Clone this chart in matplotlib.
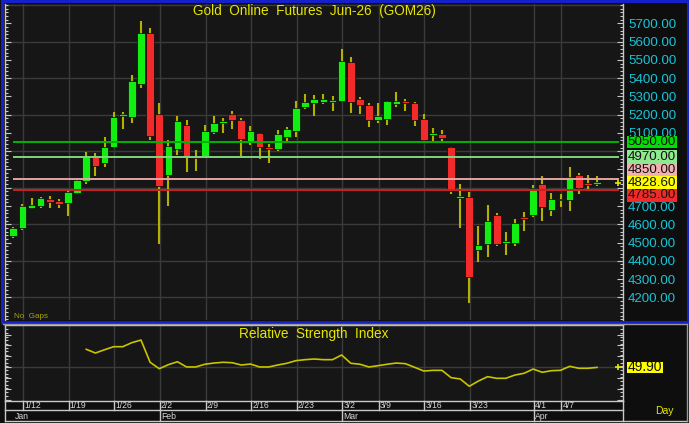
import numpy as np
import matplotlib
matplotlib.use("Agg")
import matplotlib.pyplot as plt
from matplotlib.patches import Rectangle
from matplotlib.lines import Line2D
from matplotlib.ticker import FixedLocator, MultipleLocator
import matplotlib.transforms as mtransforms

plt.rcParams['font.family'] = ['Liberation Sans', 'DejaVu Sans']

# ---------------- data ----------------
dates = ["1/9",
         "1/12", "1/13", "1/14", "1/15", "1/16",
         "1/19", "1/20", "1/21", "1/22", "1/23",
         "1/26", "1/27", "1/28", "1/29", "1/30",
         "2/2", "2/3", "2/4", "2/5", "2/6",
         "2/9", "2/10", "2/11", "2/12", "2/13",
         "2/16", "2/17", "2/18", "2/19", "2/20",
         "2/23", "2/24", "2/25", "2/26", "2/27",
         "3/2", "3/3", "3/4", "3/5",
         "3/9", "3/10", "3/11", "3/12", "3/13",
         "3/16", "3/17", "3/18", "3/19", "3/20",
         "3/23", "3/24", "3/25", "3/26", "3/27",
         "3/30", "3/31", "4/1", "4/2", "4/3",
         "4/7", "4/8", "4/9", "4/10", "4/13"]

opens = [4538, 4578, 4691, 4700, 4740, 4728, 4715, 4773, 4837, 4970,
         4937, 5025, 5193, 5189, 5368, 5649, 5204, 4870, 5012, 5143,
         4972, 4972, 5107, 5156, 5204, 5171, 5054, 5098, 5023, 5010,
         5080, 5112, 5240, 5266, 5269, 5271, 5275, 5488, 5284, 5253,
         5171, 5176, 5258, 5275, 5262, 5178, 5091, 5094, 5023, 4746,
         4749, 4458, 4492, 4649, 4499, 4498, 4638, 4651, 4821, 4676,
         4733, 4731, 4870, 4824, 4822]
highs = [4587, 4709, 4742, 4751, 4755, 4737, 4788, 4848, 4996, 4990,
         5076, 5215, 5215, 5417, 5713, 5672, 5262, 5060, 5195, 5169,
         5007, 5143, 5191, 5180, 5220, 5184, 5138, 5102, 5039, 5116,
         5134, 5275, 5313, 5308, 5313, 5300, 5559, 5514, 5298, 5262,
         5262, 5277, 5322, 5284, 5268, 5204, 5125, 5116, 5023, 4821,
         4775, 4589, 4704, 4660, 4558, 4629, 4667, 4815, 4866, 4769,
         4764, 4915, 4881, 4868, 4864]
lows = [4523, 4567, 4682, 4687, 4691, 4691, 4646, 4766, 4821, 4866,
        4915, 5020, 5120, 5156, 5344, 5060, 4494, 4700, 4979, 4886,
        4894, 4972, 5094, 5100, 5120, 4974, 5036, 4956, 4937, 4999,
        5052, 5080, 5231, 5191, 5257, 5220, 5272, 5211, 5202, 5134,
        5153, 5145, 5240, 5222, 5140, 5056, 5056, 5056, 4766, 4582,
        4168, 4392, 4423, 4483, 4432, 4481, 4563, 4642, 4620, 4647,
        4693, 4675, 4768, 4795, 4810]
closes = [4582, 4700, 4706, 4744, 4722, 4711, 4775, 4844, 4970, 4921,
          5025, 5189, 5204, 5384, 5649, 5085, 4811, 5029, 5165, 4976,
          4965, 5111, 5154, 5165, 5171, 5069, 5109, 5021, 5012, 5094,
          5123, 5238, 5268, 5288, 5284, 5277, 5494, 5271, 5251, 5171,
          5193, 5273, 5277, 5266, 5171, 5061, 5096, 5072, 4784, 4751,
          4313, 4489, 4620, 4492, 4507, 4605, 4631, 4797, 4693, 4738,
          4740, 4857, 4800, 4817, 4828.6]

rsi = [None] * 8 + [
    66.5, 63.1, 66.1, 68.9, 68.9, 72.6, 75.0, 54.6, 48.7, 52.4,
    55.1, 50.3, 50.3, 52.8, 53.9, 54.6, 54.2, 52.1, 53.0, 50.3,
    50.3, 52.1, 53.7, 56.1, 57.0, 57.6, 57.0, 57.0, 61.3, 53.7,
    52.8, 50.3, 51.5, 52.8, 53.9, 53.3, 50.0, 46.6, 47.2, 47.2,
    40.5, 39.3, 32.6, 37.4, 41.4, 39.9, 39.9, 42.9, 44.5, 48.4,
    45.4, 46.9, 47.2, 50.9, 49.1, 49.1, 49.9]

week_labels = ["1/12", "1/19", "1/26", "2/2", "2/9", "2/16", "2/23",
               "3/2", "3/9", "3/16", "3/23", "4/1", "4/7"]
month_labels = ["Jan", "Feb", "Mar", "Apr"]
month_first = ["1/9", "2/2", "3/2", "4/1"]

levels = [5050.0, 4970.0, 4850.0, 4785.0]
level_colors = ["#00B400", "#7FD67F", "#E3A4A4", "#C82222"]
level_box_colors = ["#00DD00", "#8FEA8F", "#F2B0B0", "#EE2A2A"]
last_price = 4828.60
last_rsi = 49.90

title = "Gold  Online  Futures  Jun-26  (GOM26)"
rsi_title = "Relative  Strength  Index"

# ---------------- style ----------------
W, H = 689, 423
BG = '#161616'
FIGBG = '#0e0e0e'
GRID = '#3a3a3a'
SPINE = '#c8c8c8'
GREEN = '#12EE12'
RED = '#F22A2A'
WICK = '#B4B000'
YEL = '#E6E600'
CYAN = '#16C4D6'

fig = plt.figure(figsize=(W / 100, H / 100), dpi=100, facecolor=FIGBG)


def box(l, t, r, b):
    return [l / W, 1 - b / H, (r - l) / W, (b - t) / H]


n = len(closes)
x = np.arange(n)
week_idx = [dates.index(d) for d in week_labels]
month_idx = [dates.index(d) for d in month_first]
XL = (-0.91, 66.85)

# ---------------- price panel ----------------
ax = fig.add_axes(box(5, 4, 623, 320))
ax.set_facecolor(BG)
ax.set_xlim(*XL)
ax.set_ylim(4076, 5806)

for v in np.arange(4200, 5801, 200):
    ax.axhline(v, color=GRID, lw=1.0, zorder=1)
for i in week_idx:
    ax.axvline(i + 0.08, color=GRID, lw=1.0, zorder=1)

o = np.array(opens, float)
c = np.array(closes, float)
hi = np.array(highs, float)
lo = np.array(lows, float)
up = c >= o
ax.vlines(x, lo, hi, color=WICK, lw=1.5, zorder=3)
hts = np.maximum(np.abs(c - o), 8)
bots = (o + c) / 2 - hts / 2
ax.bar(x, hts, bottom=bots, width=0.84,
       color=np.where(up, GREEN, RED), edgecolor='#080808', linewidth=0.5, zorder=4)

ax.hlines(levels, -0.05, 66.4, colors=level_colors, lw=1.4, zorder=5)
ax.plot([n + 1.3], [last_price], marker='+', color=YEL, ms=5, mew=1.2, zorder=6)

ax.text(0.5, 0.978, title, transform=ax.transAxes, ha='center', va='center',
        color=YEL, fontsize=9.8, zorder=7)
ax.text(9 / 618, 4 / 316, "No  Gaps", transform=ax.transAxes, ha='left', va='center',
        color='#A8A800', fontsize=5.8, zorder=7)

# level boxes on the right axis (stacked around the last price)
ylo, yhi = ax.get_ylim()
items = sorted([(v, bc) for v, bc in zip(levels, level_box_colors)] +
               [(last_price, '#FFFF00')], key=lambda t: -t[0])
fr = [(v - ylo) / (yhi - ylo) for v, _ in items]
a = [k for k, (v, _) in enumerate(items) if v == last_price][0]
gap = 12.8 / 316
for k in range(a - 1, -1, -1):
    fr[k] = max(fr[k], fr[k + 1] + gap)
for k in range(a + 1, len(items)):
    fr[k] = min(fr[k], fr[k - 1] - gap)
bx0 = (626.7 - 5) / 618
bw = 50 / 618
hh = 6.3 / 316
for (v, bc), f in zip(items, fr):
    ax.add_patch(Rectangle((bx0, f - hh), bw, 2 * hh, transform=ax.transAxes,
                           facecolor=bc, edgecolor='none', clip_on=False, zorder=8))
    ax.text(bx0 + bw / 2, f, f"{v:.2f}", transform=ax.transAxes, ha='center',
            va='center', fontsize=9.6, color='#101010', clip_on=False, zorder=9)


def price_label(v, p):
    f = (v - ylo) / (yhi - ylo)
    if any(abs(f - fb) < hh for fb in fr):
        return ""          # hidden behind a level box, as in the reference
    return f"{v:.2f}"


ax.yaxis.set_major_locator(FixedLocator(np.arange(4200, 5701, 100)))
ax.yaxis.set_minor_locator(MultipleLocator(20))
ax.yaxis.set_major_formatter(price_label)
ax.tick_params(axis='y', which='both', direction='in', left=True, right=True,
               labelleft=False, labelright=True, colors=SPINE,
               labelcolor=CYAN, labelsize=9.6, pad=3.6)
ax.tick_params(axis='y', which='major', length=4, width=0.8)
ax.tick_params(axis='y', which='minor', length=2, width=0.8)
ax.tick_params(axis='x', which='both', bottom=False, top=False, labelbottom=False)
for s in ['top', 'bottom']:
    ax.spines[s].set_visible(False)
for s in ['left', 'right']:
    ax.spines[s].set_color(SPINE)
    ax.spines[s].set_linewidth(1.0)

# ---------------- RSI panel ----------------
ax2 = fig.add_axes(box(5, 325, 623, 400.7))
ax2.set_facecolor(BG)
ax2.set_xlim(*XL)
ax2.set_ylim(19.36, 88.8)
ax2.axhline(50, color=GRID, lw=1.0, zorder=1)
for i in week_idx:
    ax2.axvline(i + 0.08, color=GRID, lw=1.0, zorder=1)
r = np.array([np.nan if v is None else v for v in rsi], float)
ax2.plot(x, r, color='#C8C400', lw=1.2, zorder=3)
ax2.plot([n + 1.3], [last_rsi], marker='+', color=YEL, ms=5, mew=1.2, zorder=4)
ax2.yaxis.set_major_locator(MultipleLocator(10))
ax2.yaxis.set_minor_locator(MultipleLocator(3.4))
ax2.tick_params(axis='y', which='both', direction='in', left=True, right=True,
                labelleft=False, labelright=False, colors=SPINE)
ax2.tick_params(axis='y', which='major', length=4, width=0.8)
ax2.tick_params(axis='y', which='minor', length=2, width=0.8)
ax2.tick_params(axis='x', which='both', bottom=False, top=False, labelbottom=False)
for s in ax2.spines.values():
    s.set_color(SPINE)
    s.set_linewidth(1.0)
ax2.text(0.5, 0.875, rsi_title, transform=ax2.transAxes, ha='center', va='center',
         color=YEL, fontsize=9.8)

bt = mtransforms.blended_transform_factory(ax2.transAxes, ax2.transData)
ax2.add_patch(Rectangle((bx0, last_rsi - 5.3), 36 / 618, 10.6, transform=bt,
                        facecolor='#FFFF00', edgecolor='none', clip_on=False, zorder=8))
ax2.text(bx0 + 18 / 618, last_rsi, f"{last_rsi:.2f}", transform=bt, ha='center',
         va='center', fontsize=10, color='#101010', clip_on=False, zorder=9)

# ---------------- date rows ----------------
tr = mtransforms.blended_transform_factory(ax2.transData, fig.transFigure)


def fy(py):
    return 1 - py / H


def fxp(px):
    return px / W


for i, lab in zip(week_idx, week_labels):
    fig.add_artist(Line2D([i + 0.08, i + 0.08], [fy(400.7), fy(410.3)],
                          transform=tr, color=SPINE, lw=1.0))
    fig.text(i + 0.2, fy(405.8), lab, transform=tr, ha='left', va='center',
             color='#D8D8D8', fontsize=6.2)
for k, (i, lab) in enumerate(zip(month_idx, month_labels)):
    if k > 0:
        fig.add_artist(Line2D([i + 0.08, i + 0.08], [fy(410.3), fy(421.2)],
                              transform=tr, color=SPINE, lw=1.0))
    fig.text(i + 0.2, fy(416), lab, transform=tr, ha='left', va='center',
             color='#D8D8D8', fontsize=6.2)
fig.add_artist(Line2D([fxp(5), fxp(623)], [fy(410.3), fy(410.3)], color=SPINE, lw=1.0))
fig.add_artist(Line2D([fxp(5), fxp(687)], [fy(421.3), fy(421.3)], color=SPINE, lw=1.0))
fig.add_artist(Line2D([fxp(5), fxp(5)], [fy(400.7), fy(421.3)], color=SPINE, lw=1.0))
fig.add_artist(Line2D([fxp(623), fxp(623)], [fy(400.7), fy(421.3)], color=SPINE, lw=1.0))
fig.add_artist(Line2D([fxp(3), fxp(687)], [fy(323.6), fy(323.6)], color='#9a9a9a', lw=1.0))
fig.add_artist(Line2D([fxp(687), fxp(687)], [fy(323.6), fy(421.3)], color='#9a9a9a', lw=1.0))
fig.text(fxp(664), fy(411), "Day", ha='center', va='center', color=YEL, fontsize=7.5)

# blue selection border around the price panel
fig.add_artist(Rectangle((fxp(1.5), fy(321.5)), (686 / W), (320 / H),
                         transform=fig.transFigure, fill=False,
                         edgecolor='#1520C8', lw=2.2))

fig.savefig("out.png", dpi=100, facecolor=FIGBG)
